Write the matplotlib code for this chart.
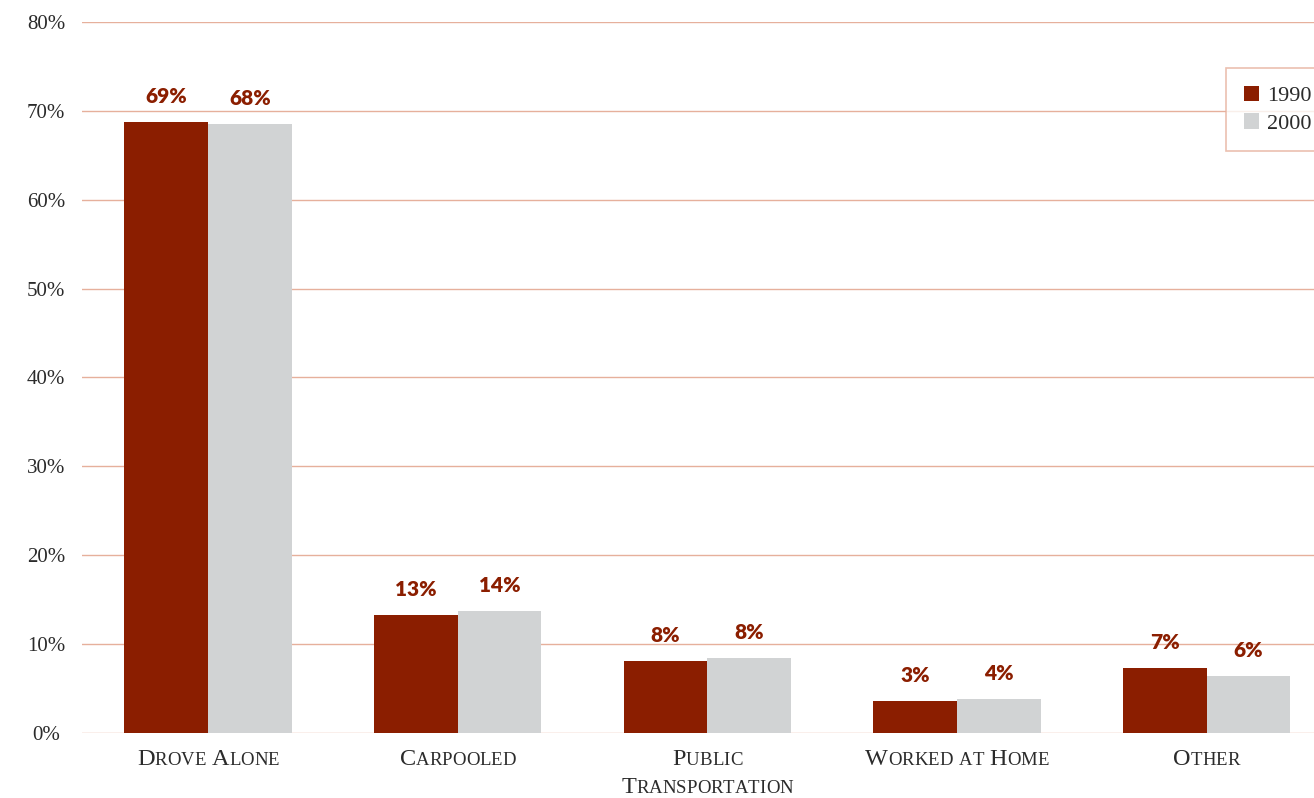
import matplotlib
matplotlib.use('Agg')
import matplotlib.pyplot as plt
import matplotlib.transforms as mtransforms
from matplotlib.font_manager import FontProperties
import numpy as np

# ── Data ─────────────────────────────────────────────────────
categories = ['Drove Alone', 'Carpooled', 'Public\nTransportation',
              'Worked at Home', 'Other']
years = ['1990', '2000']
share_1990 = [68.7, 13.3, 8.1, 3.6, 7.3]
share_2000 = [68.5, 13.7, 8.4, 3.8, 6.4]
labels_1990 = ['69%', '13%', '8%', '3%', '7%']
labels_2000 = ['68%', '14%', '8%', '4%', '6%']
y_ticks = [0, 10, 20, 30, 40, 50, 60, 70, 80]

# ── Style ────────────────────────────────────────────────────
C_1990 = '#8B1E00'
C_2000 = '#D1D3D4'
C_GRID = '#E6B09C'
C_TEXT = '#2B2B2B'
SERIF = ['Liberation Serif', 'DejaVu Serif']

W, H, DPI = 1314, 798, 100
fig = plt.figure(figsize=(W / DPI, H / DPI), dpi=DPI)
ax = fig.add_axes([82 / W, 65 / H, 1 - 82 / W, (733 - 22) / H])

x = np.arange(len(categories))
bw = 0.335
ax.bar(x - bw / 2, share_1990, bw, color=C_1990, label=years[0], zorder=3)
ax.bar(x + bw / 2, share_2000, bw, color=C_2000, label=years[1], zorder=3)

for xi, v, t in zip(x - bw / 2, share_1990, labels_1990):
    ax.text(xi, v + 2.9, t, ha='center', va='center', fontsize=15,
            fontweight='heavy', family='Lato', color=C_1990)
for xi, v, t in zip(x + bw / 2, share_2000, labels_2000):
    ax.text(xi, v + 2.9, t, ha='center', va='center', fontsize=15,
            fontweight='heavy', family='Lato', color=C_1990)

ax.set_xlim(-0.505, 4.43)
ax.set_ylim(0, 80)
ax.set_yticks(y_ticks)
ax.set_yticklabels([f'{t}%' for t in y_ticks], family=SERIF,
                   fontsize=15, color=C_TEXT)
ax.set_xticks([])
ax.tick_params(axis='y', length=0, pad=26)
for lbl in ax.get_yticklabels():
    lbl.set_horizontalalignment('center')
ax.yaxis.grid(True, color=C_GRID, lw=1, zorder=0)
for s in ax.spines.values():
    s.set_visible(False)

# ── small caps category labels ───────────────────────────────
renderer = fig.canvas.get_renderer()
BIG, SMALL = 17.5, 13.5


def small_caps(xc, y_px_below, text):
    pieces = []
    for ch in text:
        if ch.isupper() or ch == ' ':
            pieces.append((ch, BIG))
        else:
            pieces.append((ch.upper(), SMALL))
    widths = []
    for s, size in pieces:
        fp = FontProperties(family=SERIF, size=size)
        w, h, d = renderer.get_text_width_height_descent(s, fp, ismath=False)
        widths.append(w)
    total = sum(widths)
    base = ax.get_xaxis_transform()
    pos = -total / 2
    for (s, size), w in zip(pieces, widths):
        tr = base + mtransforms.ScaledTranslation(pos / DPI, -y_px_below / DPI,
                                                  fig.dpi_scale_trans)
        ax.text(xc, 0, s, transform=tr, ha='left', va='baseline',
                fontsize=size, family=SERIF, color=C_TEXT, clip_on=False)
        pos += w


for xi, cat in zip(x, categories):
    for li, line in enumerate(cat.split('\n')):
        small_caps(xi, 32 + li * 28, line)

# ── Legend ───────────────────────────────────────────────────
leg = fig.legend(loc='upper left', bbox_to_anchor=(1226 / W, 1 - 68 / H),
                 borderaxespad=0, frameon=True, fancybox=False,
                 handlelength=0.7, handleheight=0.7, handletextpad=0.35,
                 borderpad=0.8, labelspacing=0.3,
                 prop=FontProperties(family=SERIF, size=16))
leg.get_frame().set_edgecolor(C_GRID)
leg.get_frame().set_linewidth(1.2)
for t in leg.get_texts():
    t.set_color(C_TEXT)

fig.savefig('out.png', dpi=DPI, facecolor='white')
